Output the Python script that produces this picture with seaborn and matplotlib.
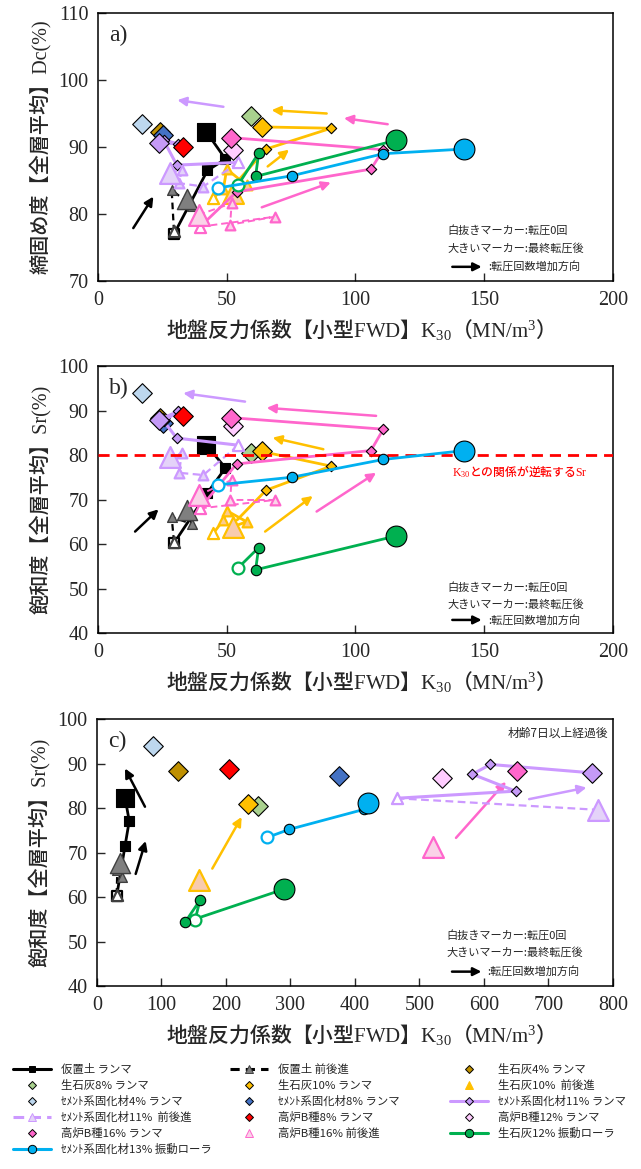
import matplotlib
matplotlib.use("Agg")
import matplotlib.pyplot as plt
from matplotlib.lines import Line2D
import seaborn as sns

# ---------------- data (K30 in MN/m3, Dc %, Sr %) ----------------
# 仮置土 ランマ
kari_r_k30 = [29.5, 42.5, 49.5, 42.0]
kari_r_dc = [77.0, 86.5, 88.2, 92.3]
kari_r_sr = [60.2, 71.5, 77.1, 82.3]
kari_r_k30c = [30.5, 43.5, 50.0, 43.5]
kari_r_src = [60.2, 71.5, 77.1, 82.3]
# 仮置土 前後進
kari_f_k30 = [29.5, 28.6, 36.4, 34.5]
kari_f_dc = [77.4, 83.6, 81.2, 82.2]
kari_f_sr = [60.5, 66.1, 64.5, 67.6]
kari_f_k30c = [30.5, 31.5, 38.5, 36.0]
kari_f_src = [60.5, 66.1, 64.5, 67.6]
# 生石灰4% ランマ
lime4_k30 = [24.2]
lime4_dc = [92.3]
lime4_sr = [88.3]
lime4_k30c = [125.0]
lime4_src = [88.3]
# 生石灰8% ランマ
lime8_k30 = [59.5]
lime8_dc = [94.7]
lime8_sr = [80.4]
lime8_k30c = [250.0]
lime8_src = [80.4]
# 生石灰10% ランマ
lime10r_k30 = [54.0, 65.3, 90.5, 63.5]
lime10r_dc = [84.8, 89.7, 92.8, 93.0]
lime10r_sr = [65.4, 72.1, 77.5, 80.8]
lime10r_k30c = [234.6]
lime10r_src = [80.8]
# 生石灰10% 前後進
lime10f_k30 = [44.8, 48.7, 50.0, 57.7, 52.5]
lime10f_dc = [82.4, 83.8, 86.7, 84.3, 83.1]
lime10f_sr = [62.4, 65.4, 67.5, 65.0, 63.9]
lime10f_k30c = [158.0]
lime10f_src = [63.9]
# セメント系固化材4% ランマ
cem4_k30 = [17.1]
cem4_dc = [93.4]
cem4_sr = [94.0]
cem4_k30c = [87.3]
cem4_src = [94.0]
# セメント系固化材8% ランマ
cem8_k30 = [25.1]
cem8_dc = [91.8]
cem8_sr = [87.2]
cem8_k30c = [375.0]
cem8_src = [87.2]
# セメント系固化材11% ランマ
cem11r_k30 = [54.5, 30.6, 25.5, 31.1, 23.6]
cem11r_dc = [87.7, 87.3, 91.0, 90.5, 90.6]
cem11r_sr = [82.2, 83.8, 87.6, 89.8, 87.9]
cem11r_k30c = [464.6, 649.0, 582.0, 610.0, 768.0]
cem11r_src = [82.2, 83.8, 87.6, 89.8, 87.9]
# セメント系固化材11% 前後進
cem11f_k30 = [54.5, 40.9, 31.5, 32.5, 28.0]
cem11f_dc = [87.7, 84.1, 84.6, 86.6, 86.1]
cem11f_sr = [82.2, 75.5, 76.0, 80.4, 79.6]
cem11f_k30c = [464.6, 777.0]
cem11f_src = [82.2, 79.6]
# 高炉B種8% ランマ
bf8_k30 = [33.1]
bf8_dc = [90.0]
bf8_sr = [88.8]
bf8_k30c = [205.0]
bf8_src = [88.8]
# 高炉B種12% ランマ
bf12_k30 = [52.5]
bf12_dc = [89.6]
bf12_sr = [86.6]
bf12_k30c = [535.0]
bf12_src = [86.8]
# 高炉B種16% ランマ
bf16r_k30 = [39.6, 53.8, 106.0, 110.8, 51.6]
bf16r_dc = [78.1, 83.3, 86.7, 89.6, 91.4]
bf16r_sr = [68.0, 78.0, 81.0, 85.8, 88.4]
bf16r_k30c = [650.7]
bf16r_src = [88.4]
# 高炉B種16% 前後進
bf16f_k30 = [39.6, 68.7, 51.3, 51.9, 39.2]
bf16f_dc = [78.1, 79.6, 78.4, 81.6, 79.9]
bf16f_sr = [68.0, 69.9, 69.9, 74.4, 71.0]
bf16f_k30c = [521.0]
bf16f_src = [71.2]
# 生石灰12% 振動ローラ
lime12v_k30 = [54.5, 62.4, 61.2, 115.7]
lime12v_dc = [84.4, 89.1, 85.6, 91.0]
lime12v_sr = [54.7, 59.2, 54.2, 61.8]
lime12v_k30c = [152.0, 159.7, 136.4, 290.4]
lime12v_src = [54.8, 59.3, 54.3, 61.8]
# セメント系固化材13% 振動ローラ
cem13v_k30 = [46.7, 75.2, 110.8, 142.3]
cem13v_dc = [83.9, 85.7, 89.0, 89.7]
cem13v_sr = [73.3, 75.0, 79.0, 81.0]
cem13v_k30c = [264.0, 298.0, 414.0, 420.6]
cem13v_src = [73.4, 75.2, 79.7, 81.2]

# direction arrows (start -> end, data units)
arr_a_x0 = [13.7, 48.7, 88.8, 112.5, 65.9, 63.6]
arr_a_y0 = [77.9, 96.0, 95.0, 93.4, 87.1, 81.0]
arr_a_x1 = [21.5, 30.8, 67.4, 95.5, 74.2, 90.4]
arr_a_y1 = [82.6, 97.0, 95.5, 94.3, 89.6, 84.7]
arr_b_x0 = [14.4, 57.1, 108.0, 87.5, 64.9, 84.9]
arr_b_y0 = [62.8, 92.0, 88.8, 81.3, 62.8, 67.3]
arr_b_x1 = [23.5, 33.1, 65.5, 67.8, 83.4, 108.0]
arr_b_y1 = [67.8, 93.9, 90.6, 83.9, 70.8, 76.0]
arr_c_x0 = [74.4, 60.0, 178.8, 556.6, 670.0]
arr_c_y0 = [80.3, 65.2, 66.4, 73.3, 82.0]
arr_c_x1 = [43.4, 75.5, 224.3, 634.1, 759.0]
arr_c_y1 = [88.9, 72.6, 78.0, 85.9, 84.6]

sr_threshold = 80.0
labels = ["仮置土 ランマ", "仮置土 前後進", "生石灰4% ランマ",
          "生石灰8% ランマ", "生石灰10% ランマ", "生石灰10%  前後進",
          "ｾﾒﾝﾄ系固化材4% ランマ", "ｾﾒﾝﾄ系固化材8% ランマ", "ｾﾒﾝﾄ系固化材11% ランマ",
          "ｾﾒﾝﾄ系固化材11%  前後進", "高炉B種8% ランマ", "高炉B種12% ランマ",
          "高炉B種16% ランマ", "高炉B種16% 前後進", "生石灰12% 振動ローラ",
          "ｾﾒﾝﾄ系固化材13% 振動ローラ"]
legend_has_line = [True, True, False, False, False, False, False, False,
                   True, True, False, False, False, False, True, True]

# ---------------- styles ----------------
BLACK, GRAY = "#000000", "#7F7F7F"
ORANGE, LAV, PINK = "#FFC000", "#CC99FF", "#FF66CC"
GREEN, BLUE = "#00B050", "#00B0F0"

styles = [
    dict(m="s", fc=BLACK, ec=BLACK, big=13.5, small=6.5, line=BLACK, lw=2.0, ls="-", open_ec=BLACK, draw_open=True, ew=0.8, legfc=BLACK),
    dict(m="^", fc=GRAY, ec="#3F3F3F", big=14.5, small=7.0, line=BLACK, lw=1.6, ls=(0, (3, 2)), open_ec="#3F3F3F", draw_open=True, ew=1.0, legfc=GRAY),
    dict(m="D", fc="#BF9000", ec=BLACK, big=10, small=5.3, line=None, ew=0.8, legfc="#BF9000"),
    dict(m="D", fc="#A9D18E", ec=BLACK, big=10, small=5.3, line=None, ew=0.8, legfc="#A9D18E"),
    dict(m="D", fc=ORANGE, ec=BLACK, big=10, small=5.3, line=ORANGE, lw=2.0, ls="-", draw_open=False, ew=0.8, legfc=ORANGE),
    dict(m="^", fc="#FBCB8F", bigfc="#F8CBAD", ec=ORANGE, big=15, small=7.0, line=ORANGE, lw=2.0, ls="-", open_ec=ORANGE, draw_open=True, ew=1.6, legfc=ORANGE),
    dict(m="D", fc="#BDD7EE", ec=BLACK, big=10, small=5.3, line=None, ew=0.8, legfc="#BDD7EE"),
    dict(m="D", fc="#4472C4", ec=BLACK, big=10, small=5.3, line=None, ew=0.8, legfc="#4472C4"),
    dict(m="D", fc="#C59AF7", ec=BLACK, big=10, small=5.3, line=LAV, lw=2.2, ls="-", draw_open=False, ew=0.8, legfc="#C59AF7"),
    dict(m="^", fc="#E4D3F9", ec=LAV, big=15, small=7.0, line=LAV, lw=1.6, ls=(0, (3.5, 2)), open_ec=LAV, draw_open=True, ew=1.6, legfc="#E4D3F9"),
    dict(m="D", fc="#FF0000", ec=BLACK, big=10, small=5.3, line=None, ew=0.8, legfc="#FF0000"),
    dict(m="D", fc="#FFCCFF", ec=BLACK, big=10, small=5.3, line=None, ew=0.8, legfc="#FFCCFF"),
    dict(m="D", fc=PINK, ec=BLACK, big=10, small=5.3, line=PINK, lw=2.0, ls="-", draw_open=False, ew=0.8, legfc=PINK),
    dict(m="^", fc="#FAD3E8", ec=PINK, big=15, small=7.0, line=PINK, lw=1.4, ls=(0, (3.5, 2)), open_ec=PINK, draw_open=True, ew=1.6, legfc="#FAD3E8"),
    dict(m="o", fc=GREEN, ec=BLACK, big=15, small=7.5, line=GREEN, lw=2.0, ls="-", open_ec=GREEN, draw_open=True, ew=0.8, legfc=GREEN),
    dict(m="o", fc=BLUE, ec=BLACK, big=15, small=7.5, line=BLUE, lw=2.0, ls="-", open_ec=BLUE, draw_open=True, ew=0.8, legfc=BLUE),
]

series_a = [(kari_r_k30, kari_r_dc), (kari_f_k30, kari_f_dc), (lime4_k30, lime4_dc), (lime8_k30, lime8_dc),
            (lime10r_k30, lime10r_dc), (lime10f_k30, lime10f_dc), (cem4_k30, cem4_dc), (cem8_k30, cem8_dc),
            (cem11r_k30, cem11r_dc), (cem11f_k30, cem11f_dc), (bf8_k30, bf8_dc), (bf12_k30, bf12_dc),
            (bf16r_k30, bf16r_dc), (bf16f_k30, bf16f_dc), (lime12v_k30, lime12v_dc), (cem13v_k30, cem13v_dc)]
series_b = [(kari_r_k30, kari_r_sr), (kari_f_k30, kari_f_sr), (lime4_k30, lime4_sr), (lime8_k30, lime8_sr),
            (lime10r_k30, lime10r_sr), (lime10f_k30, lime10f_sr), (cem4_k30, cem4_sr), (cem8_k30, cem8_sr),
            (cem11r_k30, cem11r_sr), (cem11f_k30, cem11f_sr), (bf8_k30, bf8_sr), (bf12_k30, bf12_sr),
            (bf16r_k30, bf16r_sr), (bf16f_k30, bf16f_sr), (lime12v_k30, lime12v_sr), (cem13v_k30, cem13v_sr)]
series_c = [(kari_r_k30c, kari_r_src), (kari_f_k30c, kari_f_src), (lime4_k30c, lime4_src), (lime8_k30c, lime8_src),
            (lime10r_k30c, lime10r_src), (lime10f_k30c, lime10f_src), (cem4_k30c, cem4_src), (cem8_k30c, cem8_src),
            (cem11r_k30c, cem11r_src), (cem11f_k30c, cem11f_src), (bf8_k30c, bf8_src), (bf12_k30c, bf12_src),
            (bf16r_k30c, bf16r_src), (bf16f_k30c, bf16f_src), (lime12v_k30c, lime12v_src), (cem13v_k30c, cem13v_src)]

# ---------------- theme / fonts ----------------
sns.set_theme(style="ticks")
SERIF_JP = ["Liberation Serif", "Noto Sans CJK JP"]
GOTHIC = ["Noto Sans CJK JP", "DejaVu Sans"]
plt.rcParams["font.family"] = SERIF_JP
plt.rcParams["mathtext.fontset"] = "custom"
plt.rcParams["mathtext.rm"] = "Liberation Serif"
plt.rcParams["mathtext.it"] = "Liberation Serif:italic"
plt.rcParams["mathtext.sf"] = "Noto Sans CJK JP:weight=medium"
plt.rcParams["mathtext.default"] = "rm"
plt.rcParams["axes.unicode_minus"] = False

XLABEL = r"$\mathsf{地盤反力係数【小型}\mathrm{FWD}\mathsf{】}\mathrm{K}_{30}\mathsf{（}\mathrm{MN/m}^{3}\mathsf{）}$"
RED_NOTE = r"$\mathrm{K}_{30}\mathsf{との関係が逆転する}\mathrm{Sr}$"


def scat(ax, x, y, st, size, fc, ec, z):
    sns.scatterplot(x=x, y=y, marker=st["m"], s=size ** 2, color=fc, edgecolor=ec,
                    linewidth=st["ew"], ax=ax, zorder=z, legend=False, clip_on=False)


def draw_series(ax, xs, ys, st, z):
    n = len(xs)
    if n > 1 and st["line"] is not None:
        sns.lineplot(x=xs, y=ys, sort=False, estimator=None, color=st["line"], linewidth=st["lw"],
                     linestyle=st["ls"], ax=ax, zorder=z, legend=False)
    bigfc = st.get("bigfc", st["fc"])
    if n == 1:
        scat(ax, xs, ys, st, st["big"], bigfc, st["ec"], z + 0.05)
        return
    if st.get("draw_open", False):
        scat(ax, xs[:1], ys[:1], dict(st, ew=1.6), st["small"] + 1.0, "white", st["open_ec"], z + 0.05)
    if n > 2:
        scat(ax, xs[1:-1], ys[1:-1], st, st["small"], st["fc"], st["ec"], z + 0.05)
    scat(ax, xs[-1:], ys[-1:], st, st["big"], bigfc, st["ec"], z + 0.06)


def draw_arrows(ax, x0, y0, x1, y1, cols):
    for a, b, c, d, col in zip(x0, y0, x1, y1, cols):
        ax.annotate("", xy=(c, d), xytext=(a, b),
                    arrowprops=dict(arrowstyle="-|>", color=col, lw=1.8, mutation_scale=13,
                                    shrinkA=0, shrinkB=0), zorder=1.5)


def note(ax, ys):
    kw = dict(transform=ax.transAxes, fontsize=8, family=GOTHIC, va="center", ha="left")
    ax.text(0.678, ys[0], "白抜きマーカー:転圧0回", **kw)
    ax.text(0.678, ys[1], "大きいマーカー:最終転圧後", **kw)
    ax.annotate("", xy=(0.745, ys[2]), xytext=(0.688, ys[2]), xycoords="axes fraction",
                arrowprops=dict(arrowstyle="-|>", color="black", lw=1.8, mutation_scale=12,
                                shrinkA=0, shrinkB=0))
    ax.text(0.757, ys[2], ":転圧回数増加方向", **kw)


def style_axes(ax, xmax, xstep, ymin, ymax, ylabel, tag):
    ax.set_xlim(0, xmax)
    ax.set_ylim(ymin, ymax)
    ax.set_xticks(range(0, xmax + 1, xstep))
    ax.set_yticks(range(ymin, ymax + 1, 10))
    ax.tick_params(direction="in", length=6, width=1.0, labelsize=14.5, pad=7,
                   top=False, right=False)
    for lab in ax.get_xticklabels() + ax.get_yticklabels():
        lab.set_family("Liberation Serif")
    for sp in ax.spines.values():
        sp.set_visible(True)
        sp.set_linewidth(1.1)
        sp.set_color("black")
    ax.set_xlabel(XLABEL, fontsize=15, labelpad=5)
    ax.set_ylabel(ylabel, fontsize=14.5, family=SERIF_JP, fontweight="medium", labelpad=5)
    ax.text(0.022, 0.915, tag, transform=ax.transAxes, fontsize=17, family="Liberation Serif",
            va="center", ha="left")


fig = plt.figure(figsize=(6.41, 11.69), dpi=100)
fig.patch.set_facecolor("white")
ax_a = fig.add_axes([0.1529, 0.7596, 0.8034, 0.2293])
ax_b = fig.add_axes([0.1529, 0.4585, 0.8034, 0.2284])
ax_c = fig.add_axes([0.1513, 0.1565, 0.8050, 0.2284])

for i, ((xa, ya), (xb, yb), (xc, yc)) in enumerate(zip(series_a, series_b, series_c)):
    z = 2 + i * 0.1
    draw_series(ax_a, xa, ya, styles[i], z)
    draw_series(ax_b, xb, yb, styles[i], z)
    draw_series(ax_c, xc, yc, styles[i], z)

draw_arrows(ax_a, arr_a_x0, arr_a_y0, arr_a_x1, arr_a_y1, [BLACK, LAV, ORANGE, PINK, ORANGE, PINK])
draw_arrows(ax_b, arr_b_x0, arr_b_y0, arr_b_x1, arr_b_y1, [BLACK, LAV, PINK, ORANGE, ORANGE, PINK])
draw_arrows(ax_c, arr_c_x0, arr_c_y0, arr_c_x1, arr_c_y1, [BLACK, BLACK, ORANGE, PINK, LAV])

ax_b.axhline(sr_threshold, color="#FF0000", lw=2.0, linestyle=(0, (4, 2.5)), zorder=3.45)
ax_b.text(0.688, 0.605, RED_NOTE, transform=ax_b.transAxes, fontsize=8.5,
          color="#FF0000", va="center", ha="left")

style_axes(ax_a, 200, 50, 70, 110, "締固め度【全層平均】Dc(%)", "a)")
style_axes(ax_b, 200, 50, 40, 100, "飽和度【全層平均】Sr(%)", "b)")
style_axes(ax_c, 800, 100, 40, 100, "飽和度【全層平均】Sr(%)", "c)")
note(ax_a, [0.19, 0.123, 0.053])
note(ax_b, [0.172, 0.105, 0.049])
note(ax_c, [0.191, 0.127, 0.054])
ax_c.text(0.99, 0.948, "材齢7日以上経過後", transform=ax_c.transAxes, fontsize=8.5,
          family=GOTHIC, va="center", ha="right")

# ---------------- legend (three equal-width columns, filled row by row) ----------------
handles = []
for st, has_line in zip(styles, legend_has_line):
    ms = {"D": 4.5, "s": 5.0, "^": 5.5, "o": 6.0}[st["m"]]
    handles.append(Line2D([], [], color=st["line"] if has_line else "none",
                          lw=2.2 if has_line else 0, linestyle=st["ls"] if has_line else "none",
                          marker=st["m"], markersize=ms, markerfacecolor=st["legfc"],
                          markeredgecolor=st["ec"], markeredgewidth=0.7))
col_x = [0.0203, 0.359, 0.702]
for c in range(3):
    idx = list(range(c, len(labels), 3))
    fig.legend([handles[k] for k in idx], [labels[k] for k in idx], loc="upper left",
               bbox_to_anchor=(col_x[c], 0.0898), ncol=1, frameon=False,
               prop={"family": GOTHIC, "size": 8.2}, handlelength=3.3,
               handletextpad=0.9, labelspacing=0.42, borderaxespad=0, borderpad=0)

fig.savefig("out.png", dpi=100, facecolor="white")
